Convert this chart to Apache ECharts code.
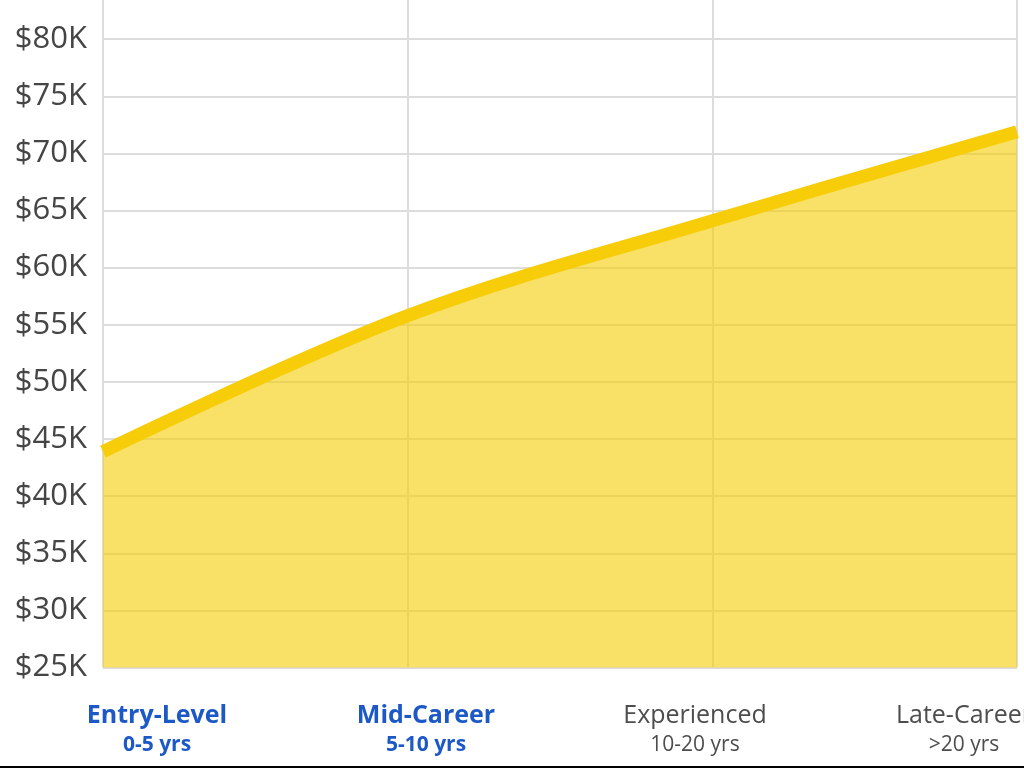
<!DOCTYPE html>
<html>
<head>
<meta charset="utf-8">
<style>
html,body{margin:0;padding:0;background:#fff;overflow:hidden;width:1024px;height:768px;}
#chart{position:absolute;left:0;top:-18px;width:1100px;height:786px;}
</style>
<script src="https://cdn.jsdelivr.net/npm/echarts@6/dist/echarts.min.js"></script>
</head>
<body>
<div id="chart"></div>
<script>
const categories = ['Entry-Level', 'Mid-Career', 'Experienced', 'Late-Career'];
const yearRanges = ['0-5 yrs', '5-10 yrs', '10-20 yrs', '>20 yrs'];
const highlighted = [true, true, false, false];
const salaries = [43900, 55800, 64100, 71900];
const yMin = 25000, yMax = 85000, yStep = 5000;

const chart = echarts.init(document.getElementById('chart'));
const option = {
  animation: false,
  backgroundColor: '#ffffff',
  grid: [
    { left: 103, width: 914, top: 0, height: 685.5, containLabel: false, outerBoundsMode: 'none' },
    { left: 22.5, width: 1076, top: 0, height: 685.5, containLabel: false, outerBoundsMode: 'none' }
  ],
  xAxis: [
    {
      type: 'category', gridIndex: 0, data: categories, boundaryGap: false,
      axisLine: { show: false }, axisTick: { show: false }, axisLabel: { show: false },
      splitLine: { show: true, lineStyle: { color: '#dcdcdc', width: 2 } }
    },
    {
      type: 'category', gridIndex: 1, data: categories, boundaryGap: true,
      axisLine: { show: false }, axisTick: { show: false }, splitLine: { show: false },
      axisLabel: {
        show: true, interval: 0, margin: 34,
        fontFamily: 'Open Sans',
        formatter: function (v, i) {
          return highlighted[i] ? '{a|' + v + '}\n{b|' + yearRanges[i] + '}'
                                : '{c|' + v + '}\n{d|' + yearRanges[i] + '}';
        },
        rich: {
          a: { fontFamily: 'Open Sans', fontSize: 25, fontWeight: 'bold', color: '#1c59c6', lineHeight: 29, align: 'center' },
          b: { fontFamily: 'Open Sans', fontSize: 21, fontWeight: 'bold', color: '#1c59c6', lineHeight: 29, align: 'center' },
          c: { fontFamily: 'Open Sans', fontSize: 25, color: '#4d4d4d', lineHeight: 29, align: 'center' },
          d: { fontFamily: 'Open Sans', fontSize: 21, color: '#4d4d4d', lineHeight: 29, align: 'center' }
        }
      }
    }
  ],
  yAxis: [
    {
      type: 'value', gridIndex: 0, min: yMin, max: yMax, interval: yStep,
      axisLine: { show: false }, axisTick: { show: false },
      splitLine: { show: true, lineStyle: { color: '#dcdcdc', width: 2 } },
      axisLabel: {
        margin: 16, fontFamily: 'Open Sans', fontSize: 31, color: '#454545',
        formatter: function (v) { return '$' + (v / 1000) + 'K'; }
      }
    },
    { type: 'value', gridIndex: 1, min: yMin, max: yMax, show: false }
  ],
  series: [
    {
      type: 'line', xAxisIndex: 0, yAxisIndex: 0, data: salaries,
      smooth: 0.35, symbol: 'none',
      lineStyle: { color: '#f6cd08', width: 13, cap: 'butt' },
      areaStyle: { color: '#f6cd08', opacity: 0.62 }
    }
  ],
  graphic: [
    { type: 'rect', left: 0, top: 784, shape: { width: 1100, height: 2 }, style: { fill: '#000' } }
  ]
};
chart.setOption(option);
</script>
</body>
</html>
